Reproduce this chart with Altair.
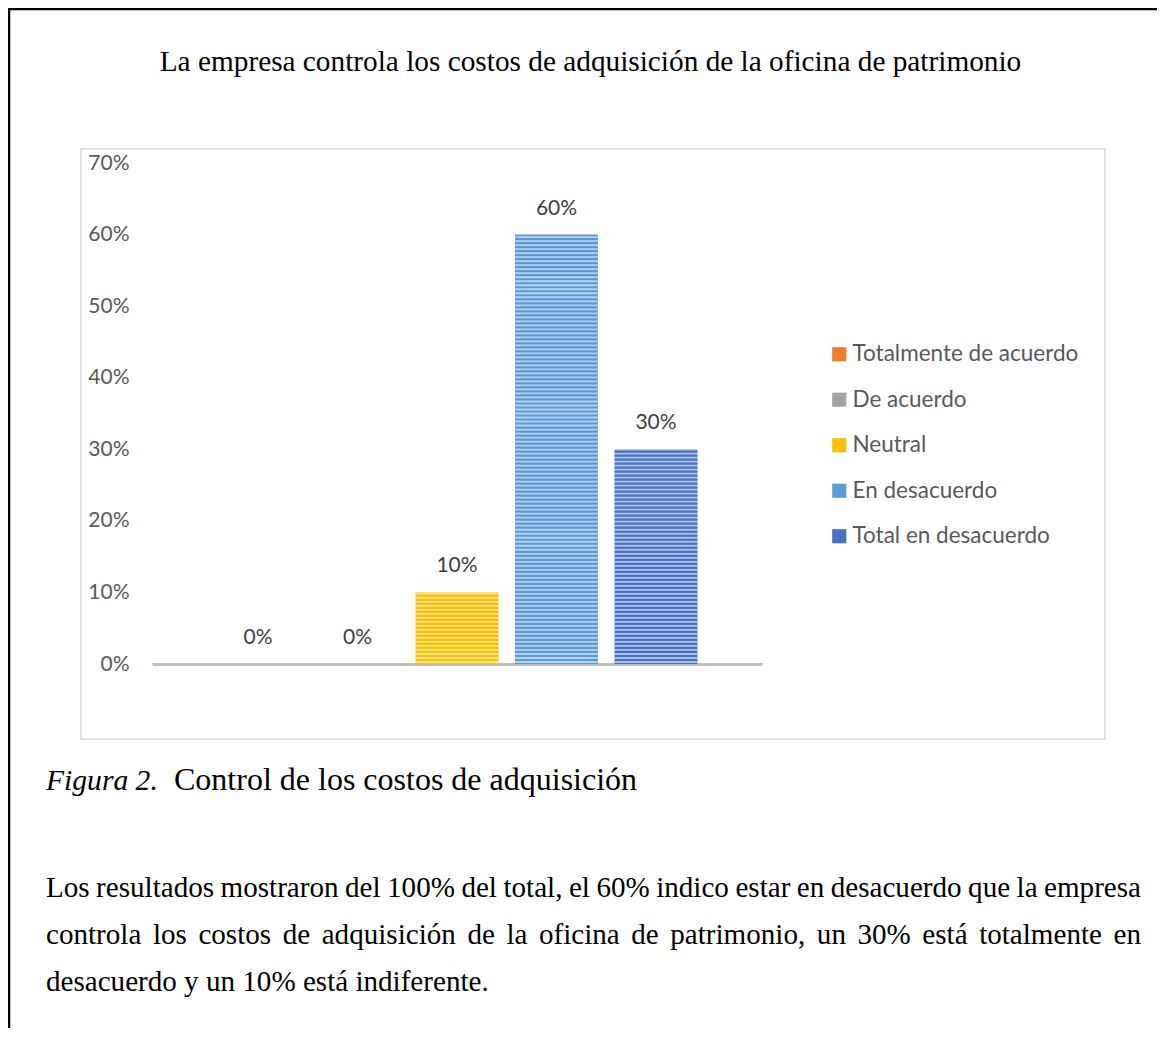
import altair as alt
import pandas as pd

categories = ["Totalmente de acuerdo", "De acuerdo", "Neutral", "En desacuerdo", "Total en desacuerdo"]
values = [0.0, 0.0, 0.10, 0.60, 0.30]
colors = ["#ED7D31", "#A5A5A5", "#FFC000", "#5B9BD5", "#4472C4"]
y_ticks = [0.0, 0.1, 0.2, 0.3, 0.4, 0.5, 0.6, 0.7]

title_text = "La empresa controla los costos de adquisición de la oficina de patrimonio"
caption_italic = "Figura 2."
caption_regular = "Control de los costos de adquisición"
paragraph = [
    "Los resultados mostraron del 100% del total, el 60% indico estar en desacuerdo que la empresa",
    "controla los costos de adquisición de la oficina de patrimonio, un 30% está totalmente en",
    "desacuerdo y un 10% está indiferente.",
]

df = pd.DataFrame({"cat": categories, "value": values})

W, H = 610, 501
SANS = "Lato"
SERIF = "Liberation Serif"
PARA_SIZE = 29.1

# Times / Liberation Serif advance widths (per 1000 em) used to justify text lines
TW = {" ": 250, "a": 444, "b": 500, "c": 444, "d": 500, "e": 444, "f": 333, "g": 500,
      "h": 500, "i": 278, "j": 278, "k": 500, "l": 278, "m": 778, "n": 500, "o": 500,
      "p": 500, "q": 500, "r": 333, "s": 389, "t": 278, "u": 500, "v": 500, "w": 722,
      "x": 500, "y": 500, "z": 444, ",": 250, ".": 250, "%": 833, "á": 444, "é": 444,
      "í": 278, "ó": 500, "ú": 500, "L": 611}
for d in "0123456789":
    TW[d] = 500


def text_width(s, size):
    return sum(TW.get(ch, 500) for ch in s) * size / 1000.0


x_enc = alt.X("cat:N", sort=categories,
              scale=alt.Scale(paddingInner=0.166, paddingOuter=0.648),
              axis=alt.Axis(title=None, labels=False, ticks=False, domain=True,
                            domainColor="#bfbfbf", domainWidth=3))
y_axis = alt.Axis(title=None, values=y_ticks, format=".0%", grid=False, ticks=False,
                  domain=False, labelFont=SANS, labelFontSize=21, labelColor="#595959",
                  labelPadding=23)
y_scale = alt.Scale(domain=[0, 0.7], nice=False)

base = alt.Chart(df)

bars = base.mark_bar().encode(
    x=x_enc,
    y=alt.Y("value:Q", scale=y_scale, axis=y_axis),
    color=alt.Color("cat:N", sort=categories,
                    scale=alt.Scale(domain=categories, range=colors),
                    legend=alt.Legend(orient="none", legendX=676, legendY=180, title=None,
                                      symbolType="square", symbolSize=200,
                                      symbolStrokeWidth=0, labelFont=SANS,
                                      labelFontSize=22.5, labelColor="#595959",
                                      labelLimit=400,
                                      rowPadding=22.5, labelOffset=2, padding=0)),
)

stripes = base.transform_calculate(
    s="sequence(0.0028, datum.value, 0.0056)"
).transform_flatten(["s"]).mark_tick(
    orient="horizontal", size=83, thickness=1.8, color="white", opacity=0.55
).encode(
    x=x_enc,
    y=alt.Y("s:Q", scale=y_scale, axis=y_axis),
)

labels = base.mark_text(font=SANS, fontSize=21, color="#404040", baseline="middle", dy=-26).encode(
    x=x_enc,
    y=alt.Y("value:Q", scale=y_scale, axis=y_axis),
    text=alt.Text("value:Q", format=".0%"),
)

one = alt.Data(values=[{"k": 0}])

box = alt.Chart(one).mark_rect(fill="transparent", stroke="#d9d9d9", strokeWidth=1.5).encode(
    x=alt.value(-71), x2=alt.value(953), y=alt.value(-14), y2=alt.value(576)
)
border_left = alt.Chart(one).mark_rule(color="black", strokeWidth=2.5).encode(
    x=alt.value(-143), y=alt.value(-155), y2=alt.value(900)
)
border_top = alt.Chart(one).mark_rule(color="black", strokeWidth=2.5).encode(
    y=alt.value(-154), x=alt.value(-144), x2=alt.value(1010)
)

title = alt.Chart(one).mark_text(font=SERIF, fontSize=29.3, color="black", align="center",
                                 baseline="alphabetic", text=title_text).encode(
    x=alt.value(438.5), y=alt.value(-92)
)
cap1 = alt.Chart(one).mark_text(font=SERIF, fontSize=29.6, fontStyle="italic", color="black",
                                align="left", baseline="alphabetic", text=caption_italic).encode(
    x=alt.value(-106), y=alt.value(627)
)
cap2 = alt.Chart(one).mark_text(font=SERIF, fontSize=32, color="black",
                                align="left", baseline="alphabetic", text=caption_regular).encode(
    x=alt.value(22), y=alt.value(627)
)

PARA_X0 = -106
PARA_WIDTH = 1095
para_layers = []
for i, line in enumerate(paragraph):
    y_line = 734 + 47 * i
    if i < len(paragraph) - 1:
        # justified line: distribute extra space between words
        words = line.split(" ")
        widths = [text_width(w, PARA_SIZE) for w in words]
        gap = (PARA_WIDTH - sum(widths)) / (len(words) - 1)
        x = PARA_X0
        for w, wd in zip(words, widths):
            para_layers.append(
                alt.Chart(one).mark_text(font=SERIF, fontSize=PARA_SIZE, color="black",
                                         align="left", baseline="alphabetic", text=w).encode(
                    x=alt.value(round(x, 2)), y=alt.value(y_line)
                )
            )
            x += wd + gap
    else:
        para_layers.append(
            alt.Chart(one).mark_text(font=SERIF, fontSize=PARA_SIZE, color="black", align="left",
                                     baseline="alphabetic", text=line).encode(
                x=alt.value(PARA_X0), y=alt.value(y_line)
            )
        )

chart = alt.layer(
    box, border_left, border_top, bars, stripes, labels, title, cap1, cap2, *para_layers
).resolve_scale(x="shared", y="shared").properties(
    width=W, height=H,
    padding={"left": 144, "top": 155, "right": 395, "bottom": 364},
    autosize=alt.AutoSizeParams(type="none"),
    background="white",
).configure_view(stroke=None)

chart.save("out.html", embed_options={"renderer": "svg", "actions": False})
